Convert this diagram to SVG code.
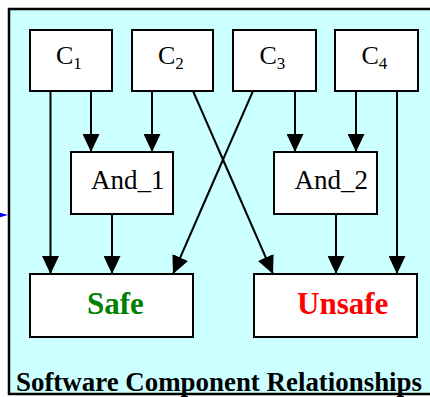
<svg xmlns="http://www.w3.org/2000/svg" width="430" height="397" viewBox="0 0 430 397">
  <defs>
    <marker id="arrow" markerUnits="userSpaceOnUse" markerWidth="18" markerHeight="17" refX="18" refY="8.5" orient="auto">
      <path d="M0,0 L18,8.5 L0,17 z" fill="#000"/>
    </marker>
    <style>
      .box { fill: #fff; stroke: #000; stroke-width: 2; }
      .edge { fill: none; stroke: #000; stroke-width: 2; marker-end: url(#arrow); }
      .lbl { font-family: "Liberation Serif", "Times New Roman", serif; font-size: 26px; fill: #000; }
      .sub { font-size: 17px; }
      .and { font-size: 27px; }
      .big { font-family: "Liberation Serif", "Times New Roman", serif; font-size: 31px; font-weight: bold; }
    </style>
  </defs>

  <!-- cluster background -->
  <rect x="9" y="9" width="432" height="385" fill="#ccffff" stroke="#000" stroke-width="2.5"/>
  <!-- incoming arrow tip at cluster edge -->
  <polygon points="-10,210 8,215 -10,220" fill="#0000ff"/>

  <g id="edges">
    <line class="edge" x1="50.5" y1="91" x2="50.5" y2="274"/>
    <line class="edge" x1="91" y1="91" x2="91" y2="152"/>
    <line class="edge" x1="152" y1="91" x2="152" y2="152"/>
    <line class="edge" x1="193" y1="91" x2="273" y2="274"/>
    <line class="edge" x1="253" y1="91" x2="173" y2="274"/>
    <line class="edge" x1="295" y1="91" x2="295" y2="152"/>
    <line class="edge" x1="356" y1="91" x2="356" y2="152"/>
    <line class="edge" x1="397" y1="91" x2="397" y2="274"/>
    <line class="edge" x1="112" y1="214" x2="112" y2="274"/>
    <line class="edge" x1="336" y1="214" x2="336" y2="274"/>
  </g>

  <g id="C1">
    <rect class="box" x="30" y="30" width="82" height="61"/>
    <text class="lbl" x="56" y="64">C<tspan class="sub" dy="4.5">1</tspan></text>
  </g>
  <g id="C2">
    <rect class="box" x="132" y="30" width="81" height="61"/>
    <text class="lbl" x="158" y="64">C<tspan class="sub" dy="4.5">2</tspan></text>
  </g>
  <g id="C3">
    <rect class="box" x="233" y="30" width="83" height="61"/>
    <text class="lbl" x="259.5" y="64">C<tspan class="sub" dy="4.5">3</tspan></text>
  </g>
  <g id="C4">
    <rect class="box" x="335" y="30" width="83" height="61"/>
    <text class="lbl" x="361.5" y="64">C<tspan class="sub" dy="4.5">4</tspan></text>
  </g>
  <g id="And_1">
    <rect class="box" x="71" y="152" width="102" height="62"/>
    <text class="lbl and" x="91" y="189">And_1</text>
  </g>
  <g id="And_2">
    <rect class="box" x="274" y="152" width="103" height="62"/>
    <text class="lbl and" x="294.5" y="189">And_2</text>
  </g>
  <g id="Safe">
    <rect class="box" x="30" y="274" width="163" height="63"/>
    <text class="big" x="87" y="314" fill="#008000">Safe</text>
  </g>
  <g id="Unsafe">
    <rect class="box" x="254" y="274" width="163" height="63"/>
    <text class="big" x="297" y="314" fill="#ff0000">Unsafe</text>
  </g>

  <text x="16" y="391" font-family="Liberation Serif, 'Times New Roman', serif" font-size="27" font-weight="bold" fill="#000" textLength="406" lengthAdjust="spacingAndGlyphs">Software Component Relationships</text>
</svg>
